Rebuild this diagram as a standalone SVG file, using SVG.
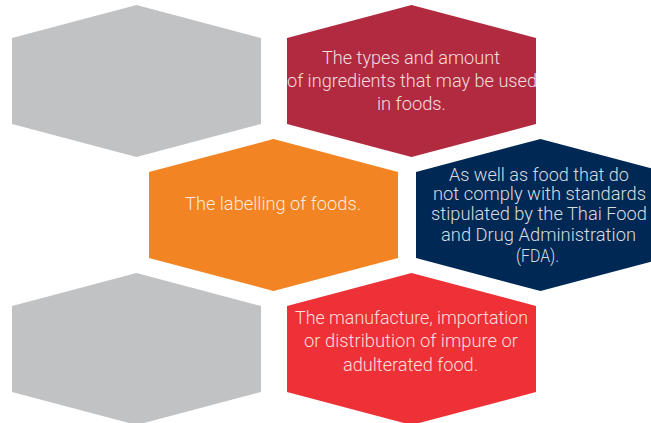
<svg xmlns="http://www.w3.org/2000/svg" width="651" height="423" viewBox="0 0 651 423">
<style>
.t{font-family:Roboto,"Liberation Sans",sans-serif;font-weight:300;font-size:19px;fill:#ffffff;fill-opacity:0.85}
.s{font-size:18px}
</style>
<rect width="651" height="423" fill="#ffffff"/>
<g id="hex-gray-top">
<polygon points="136.5,5 261,38 261,124 136.5,157 12,124 12,38" fill="#c1c2c4"/>
</g>
<g id="hex-ingredients">
<polygon points="411.5,5 536,38 536,124 411.5,157 287,124 287,38" fill="#b22a3f"/>
<text class="t" x="322" y="64" textLength="178" lengthAdjust="spacingAndGlyphs">The types and amount</text>
<text class="t" x="287" y="86.5" textLength="250" lengthAdjust="spacingAndGlyphs">of ingredients that may be used</text>
<text class="t" x="377" y="109.5" textLength="69" lengthAdjust="spacingAndGlyphs">in foods.</text>
</g>
<g id="hex-labelling">
<polygon points="273.5,139 398,172 398,258 273.5,291 149,258 149,172" fill="#f28423"/>
<text class="t" x="185" y="210" textLength="176" lengthAdjust="spacingAndGlyphs">The labelling of foods.</text>
</g>
<g id="hex-standards">
<polygon points="540.5,139 665,172 665,258 540.5,291 416,258 416,172" fill="#002855"/>
<text class="t s" x="449" y="181" textLength="180" lengthAdjust="spacingAndGlyphs">As well as food that do</text>
<text class="t s" x="433" y="200" textLength="213" lengthAdjust="spacingAndGlyphs">not comply with standards</text>
<text class="t s" x="431" y="219.5" textLength="216" lengthAdjust="spacingAndGlyphs">stipulated by the Thai Food</text>
<text class="t s" x="441" y="241" textLength="195" lengthAdjust="spacingAndGlyphs">and Drug Administration</text>
<text class="t s" x="516" y="262" textLength="43" lengthAdjust="spacingAndGlyphs">(FDA).</text>
</g>
<g id="hex-gray-bottom">
<polygon points="136.5,273 261,306 261,392 136.5,425 12,392 12,306" fill="#c1c2c4"/>
</g>
<g id="hex-manufacture">
<polygon points="411.5,273 536,306 536,392 411.5,425 287,392 287,306" fill="#ee3137"/>
<text class="t" x="295" y="323.5" textLength="233" lengthAdjust="spacingAndGlyphs">The manufacture, importation</text>
<text class="t" x="304" y="346.5" textLength="214" lengthAdjust="spacingAndGlyphs">or distribution of impure or</text>
<text class="t" x="343" y="370.5" textLength="135" lengthAdjust="spacingAndGlyphs">adulterated food.</text>
</g>
<g id="connectors"/>
</svg>
